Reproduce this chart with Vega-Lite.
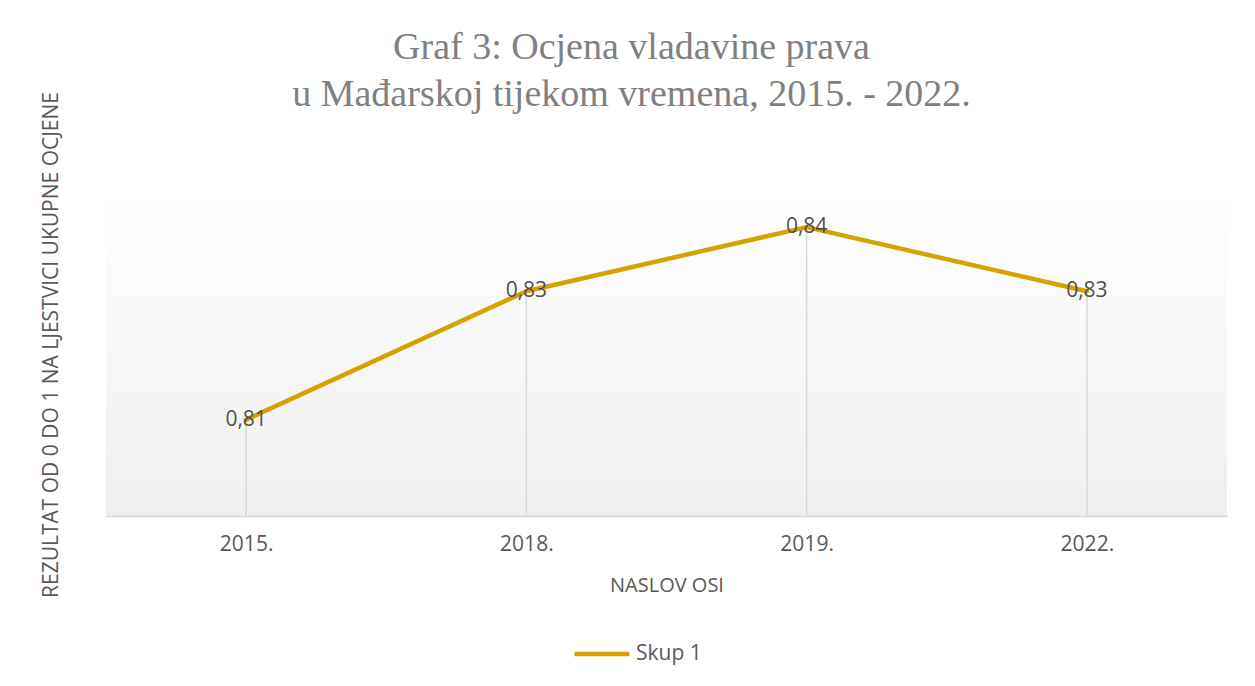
{
  "$schema": "https://vega.github.io/schema/vega-lite/v6.json",
  "autosize": "none",
  "width": 1121,
  "height": 321,
  "padding": {"left": 106, "top": 195, "right": 28, "bottom": 170},
  "background": "white",
  "view": {
    "stroke": null,
    "fill": {"gradient": "linear", "x1": 0, "y1": 0, "x2": 0, "y2": 1, "stops": [{"offset": 0, "color": "#ffffff"}, {"offset": 1, "color": "#efefef"}]}
  },
  "title": {
    "text": ["Graf 3: Ocjena vladavine prava", "u Mađarskoj tijekom vremena, 2015. - 2022."],
    "font": "Liberation Serif",
    "fontSize": 38,
    "fontWeight": "normal",
    "color": "#808080",
    "anchor": "middle",
    "frame": "group",
    "dx": -35,
    "dy": 102,
    "offset": 80,
    "lineHeight": 47
  },
  "data": {
    "values": [
      {"year": "2015.", "value": 0.81, "series": "Skup 1"},
      {"year": "2018.", "value": 0.83, "series": "Skup 1"},
      {"year": "2019.", "value": 0.84, "series": "Skup 1"},
      {"year": "2022.", "value": 0.83, "series": "Skup 1"}
    ]
  },
  "encoding": {
    "x": {
      "field": "year", "type": "ordinal", "sort": null,
      "scale": {"type": "point", "padding": 0.5},
      "axis": {
        "title": "NASLOV OSI", "labelAngle": 0, "ticks": false, "grid": false,
        "domainColor": "#d9d9d9", "domainWidth": 1.5,
        "labelFont": "Open Sans", "labelFontSize": 21, "labelColor": "#595959", "labelPadding": 17,
        "titleFont": "Open Sans", "titleFontSize": 20, "titleFontWeight": "normal", "titleColor": "#595959", "titlePadding": 21
      }
    },
    "y": {
      "field": "value", "type": "quantitative",
      "scale": {"domain": [0.795, 0.845], "nice": false, "zero": false},
      "axis": {
        "title": "REZULTAT OD 0 DO 1 NA LJESTVICI UKUPNE OCJENE",
        "labels": false, "ticks": false, "domain": false, "grid": false,
        "titleFont": "Open Sans", "titleFontSize": 21, "titleFontWeight": "normal", "titleColor": "#595959",
        "titleX": -49, "titleY": 149.5, "titleAngle": -90, "titleAlign": "center", "titleBaseline": "alphabetic"
      }
    }
  },
  "layer": [
    {
      "mark": {"type": "rule", "color": "#d9d9d9", "strokeWidth": 1.5},
      "encoding": {"y2": {"datum": 0.795}}
    },
    {
      "mark": {"type": "line", "strokeWidth": 4.5, "strokeJoin": "round", "strokeCap": "round"},
      "encoding": {
        "color": {
          "field": "series", "type": "nominal",
          "scale": {"range": ["#d6a200"]},
          "legend": {
            "title": null, "orient": "none", "legendX": 466, "legendY": 429,
            "symbolType": "stroke", "symbolSize": 3025, "symbolStrokeWidth": 4.5,
            "labelFont": "Open Sans", "labelFontSize": 21, "labelColor": "#595959", "labelOffset": 4
          }
        }
      }
    },
    {
      "mark": {"type": "text", "font": "Open Sans", "fontSize": 21, "color": "#505050", "align": "center", "baseline": "middle"},
      "encoding": {"text": {"field": "value", "type": "quantitative", "format": ".2f"}}
    }
  ],
  "config": {
    "locale": {"number": {"decimal": ",", "thousands": ".", "grouping": [3], "currency": ["", " €"]}}
  }
}
